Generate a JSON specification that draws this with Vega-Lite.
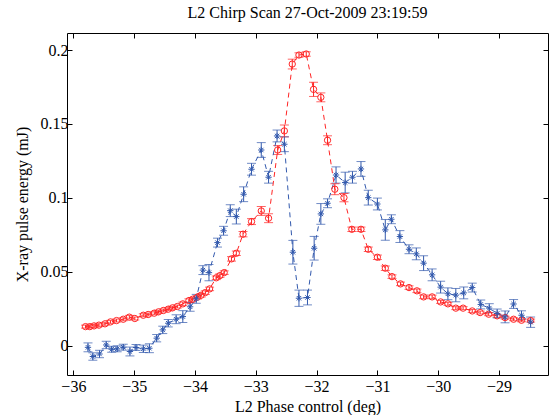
{
  "$schema": "https://vega.github.io/schema/vega-lite/v6.json",
  "width": 481,
  "height": 342,
  "autosize": {"type": "none"},
  "padding": {"left": 67, "top": 33, "right": 1, "bottom": 40},
  "background": "white",
  "title": {"text": "L2 Chirp Scan 27-Oct-2009 23:19:59", "font": "'Liberation Serif', 'Times New Roman', serif", "fontSize": 16, "fontWeight": "normal", "color": "#000000", "offset": 12},
  "config": {
    "font": "'Liberation Serif', 'Times New Roman', serif",
    "view": {"stroke": "#000000", "strokeWidth": 1},
    "axis": {"labelFont": "'Liberation Serif', 'Times New Roman', serif", "titleFont": "'Liberation Serif', 'Times New Roman', serif", "labelFontSize": 16, "titleFontSize": 16, "titleFontWeight": "normal", "labelColor": "#000000", "titleColor": "#000000", "tickColor": "#000000", "domain": false, "grid": false, "tickSize": -5}
  },
  "data": {"values": [
    {"series": "red", "x": -35.80, "y": 0.0130, "err": 0.0010},
    {"series": "red", "x": -35.73, "y": 0.0130, "err": 0.0010},
    {"series": "red", "x": -35.66, "y": 0.0135, "err": 0.0010},
    {"series": "red", "x": -35.58, "y": 0.0140, "err": 0.0010},
    {"series": "red", "x": -35.48, "y": 0.0149, "err": 0.0010},
    {"series": "red", "x": -35.39, "y": 0.0162, "err": 0.0010},
    {"series": "red", "x": -35.29, "y": 0.0171, "err": 0.0010},
    {"series": "red", "x": -35.18, "y": 0.0180, "err": 0.0010},
    {"series": "red", "x": -35.08, "y": 0.0194, "err": 0.0012},
    {"series": "red", "x": -34.99, "y": 0.0185, "err": 0.0010},
    {"series": "red", "x": -34.85, "y": 0.0207, "err": 0.0010},
    {"series": "red", "x": -34.77, "y": 0.0212, "err": 0.0010},
    {"series": "red", "x": -34.67, "y": 0.0221, "err": 0.0010},
    {"series": "red", "x": -34.60, "y": 0.0230, "err": 0.0010},
    {"series": "red", "x": -34.52, "y": 0.0239, "err": 0.0010},
    {"series": "red", "x": -34.44, "y": 0.0248, "err": 0.0010},
    {"series": "red", "x": -34.37, "y": 0.0257, "err": 0.0010},
    {"series": "red", "x": -34.29, "y": 0.0266, "err": 0.0010},
    {"series": "red", "x": -34.20, "y": 0.0284, "err": 0.0012},
    {"series": "red", "x": -34.10, "y": 0.0306, "err": 0.0012},
    {"series": "red", "x": -34.04, "y": 0.0315, "err": 0.0012},
    {"series": "red", "x": -33.96, "y": 0.0329, "err": 0.0012},
    {"series": "red", "x": -33.90, "y": 0.0342, "err": 0.0012},
    {"series": "red", "x": -33.83, "y": 0.0360, "err": 0.0012},
    {"series": "red", "x": -33.76, "y": 0.0385, "err": 0.0012},
    {"series": "red", "x": -33.65, "y": 0.0460, "err": 0.0012},
    {"series": "red", "x": -33.59, "y": 0.0475, "err": 0.0012},
    {"series": "red", "x": -33.52, "y": 0.0495, "err": 0.0012},
    {"series": "red", "x": -33.40, "y": 0.0588, "err": 0.0015},
    {"series": "red", "x": -33.32, "y": 0.0626, "err": 0.0015},
    {"series": "red", "x": -33.21, "y": 0.0755, "err": 0.0018},
    {"series": "red", "x": -33.07, "y": 0.0840, "err": 0.0020},
    {"series": "red", "x": -32.91, "y": 0.0912, "err": 0.0030},
    {"series": "red", "x": -32.79, "y": 0.0863, "err": 0.0030},
    {"series": "red", "x": -32.64, "y": 0.1324, "err": 0.0030},
    {"series": "red", "x": -32.53, "y": 0.1453, "err": 0.0040},
    {"series": "red", "x": -32.40, "y": 0.1905, "err": 0.0033},
    {"series": "red", "x": -32.29, "y": 0.1966, "err": 0.0015},
    {"series": "red", "x": -32.17, "y": 0.1973, "err": 0.0015},
    {"series": "red", "x": -32.05, "y": 0.1734, "err": 0.0048},
    {"series": "red", "x": -31.93, "y": 0.1680, "err": 0.0030},
    {"series": "red", "x": -31.82, "y": 0.1390, "err": 0.0030},
    {"series": "red", "x": -31.70, "y": 0.1059, "err": 0.0037},
    {"series": "red", "x": -31.55, "y": 0.1002, "err": 0.0028},
    {"series": "red", "x": -31.42, "y": 0.0788, "err": 0.0015},
    {"series": "red", "x": -31.27, "y": 0.0788, "err": 0.0015},
    {"series": "red", "x": -31.15, "y": 0.0653, "err": 0.0015},
    {"series": "red", "x": -31.00, "y": 0.0599, "err": 0.0015},
    {"series": "red", "x": -30.87, "y": 0.0525, "err": 0.0015},
    {"series": "red", "x": -30.76, "y": 0.0468, "err": 0.0012},
    {"series": "red", "x": -30.62, "y": 0.0419, "err": 0.0012},
    {"series": "red", "x": -30.48, "y": 0.0394, "err": 0.0012},
    {"series": "red", "x": -30.35, "y": 0.0372, "err": 0.0012},
    {"series": "red", "x": -30.24, "y": 0.0331, "err": 0.0012},
    {"series": "red", "x": -30.10, "y": 0.0331, "err": 0.0012},
    {"series": "red", "x": -29.96, "y": 0.0297, "err": 0.0010},
    {"series": "red", "x": -29.84, "y": 0.0284, "err": 0.0010},
    {"series": "red", "x": -29.71, "y": 0.0255, "err": 0.0010},
    {"series": "red", "x": -29.59, "y": 0.0255, "err": 0.0010},
    {"series": "red", "x": -29.44, "y": 0.0236, "err": 0.0010},
    {"series": "red", "x": -29.31, "y": 0.0225, "err": 0.0010},
    {"series": "red", "x": -29.17, "y": 0.0214, "err": 0.0010},
    {"series": "red", "x": -29.03, "y": 0.0203, "err": 0.0010},
    {"series": "red", "x": -28.90, "y": 0.0191, "err": 0.0010},
    {"series": "red", "x": -28.76, "y": 0.0180, "err": 0.0010},
    {"series": "red", "x": -28.63, "y": 0.0173, "err": 0.0010},
    {"series": "red", "x": -28.48, "y": 0.0171, "err": 0.0010},
    {"series": "blue", "x": -35.76, "y": -0.0010, "err": 0.0030},
    {"series": "blue", "x": -35.68, "y": -0.0072, "err": 0.0025},
    {"series": "blue", "x": -35.57, "y": -0.0055, "err": 0.0025},
    {"series": "blue", "x": -35.46, "y": 0.0006, "err": 0.0025},
    {"series": "blue", "x": -35.37, "y": -0.0023, "err": 0.0020},
    {"series": "blue", "x": -35.28, "y": -0.0020, "err": 0.0020},
    {"series": "blue", "x": -35.18, "y": -0.0009, "err": 0.0020},
    {"series": "blue", "x": -35.07, "y": -0.0038, "err": 0.0030},
    {"series": "blue", "x": -34.97, "y": -0.0011, "err": 0.0020},
    {"series": "blue", "x": -34.85, "y": -0.0020, "err": 0.0025},
    {"series": "blue", "x": -34.75, "y": -0.0016, "err": 0.0030},
    {"series": "blue", "x": -34.63, "y": 0.0052, "err": 0.0025},
    {"series": "blue", "x": -34.53, "y": 0.0108, "err": 0.0025},
    {"series": "blue", "x": -34.44, "y": 0.0153, "err": 0.0025},
    {"series": "blue", "x": -34.31, "y": 0.0180, "err": 0.0030},
    {"series": "blue", "x": -34.20, "y": 0.0198, "err": 0.0040},
    {"series": "blue", "x": -34.08, "y": 0.0264, "err": 0.0030},
    {"series": "blue", "x": -33.98, "y": 0.0318, "err": 0.0030},
    {"series": "blue", "x": -33.87, "y": 0.0512, "err": 0.0030},
    {"series": "blue", "x": -33.77, "y": 0.0495, "err": 0.0055},
    {"series": "blue", "x": -33.63, "y": 0.0698, "err": 0.0030},
    {"series": "blue", "x": -33.53, "y": 0.0778, "err": 0.0030},
    {"series": "blue", "x": -33.42, "y": 0.0914, "err": 0.0040},
    {"series": "blue", "x": -33.32, "y": 0.0874, "err": 0.0050},
    {"series": "blue", "x": -33.20, "y": 0.1025, "err": 0.0050},
    {"series": "blue", "x": -33.07, "y": 0.1194, "err": 0.0040},
    {"series": "blue", "x": -32.91, "y": 0.1324, "err": 0.0050},
    {"series": "blue", "x": -32.79, "y": 0.1140, "err": 0.0040},
    {"series": "blue", "x": -32.65, "y": 0.1419, "err": 0.0040},
    {"series": "blue", "x": -32.53, "y": 0.1363, "err": 0.0050},
    {"series": "blue", "x": -32.39, "y": 0.0633, "err": 0.0080},
    {"series": "blue", "x": -32.29, "y": 0.0322, "err": 0.0055},
    {"series": "blue", "x": -32.15, "y": 0.0327, "err": 0.0050},
    {"series": "blue", "x": -32.04, "y": 0.0660, "err": 0.0080},
    {"series": "blue", "x": -31.93, "y": 0.0892, "err": 0.0070},
    {"series": "blue", "x": -31.82, "y": 0.0964, "err": 0.0030},
    {"series": "blue", "x": -31.68, "y": 0.1155, "err": 0.0055},
    {"series": "blue", "x": -31.53, "y": 0.1104, "err": 0.0070},
    {"series": "blue", "x": -31.41, "y": 0.1140, "err": 0.0040},
    {"series": "blue", "x": -31.27, "y": 0.1196, "err": 0.0050},
    {"series": "blue", "x": -31.15, "y": 0.1002, "err": 0.0050},
    {"series": "blue", "x": -31.00, "y": 0.0959, "err": 0.0040},
    {"series": "blue", "x": -30.87, "y": 0.0784, "err": 0.0070},
    {"series": "blue", "x": -30.77, "y": 0.0856, "err": 0.0030},
    {"series": "blue", "x": -30.63, "y": 0.0739, "err": 0.0040},
    {"series": "blue", "x": -30.48, "y": 0.0653, "err": 0.0030},
    {"series": "blue", "x": -30.36, "y": 0.0622, "err": 0.0040},
    {"series": "blue", "x": -30.24, "y": 0.0559, "err": 0.0050},
    {"series": "blue", "x": -30.10, "y": 0.0480, "err": 0.0040},
    {"series": "blue", "x": -29.96, "y": 0.0397, "err": 0.0040},
    {"series": "blue", "x": -29.84, "y": 0.0352, "err": 0.0040},
    {"series": "blue", "x": -29.71, "y": 0.0343, "err": 0.0045},
    {"series": "blue", "x": -29.58, "y": 0.0358, "err": 0.0040},
    {"series": "blue", "x": -29.44, "y": 0.0394, "err": 0.0030},
    {"series": "blue", "x": -29.30, "y": 0.0280, "err": 0.0030},
    {"series": "blue", "x": -29.16, "y": 0.0255, "err": 0.0030},
    {"series": "blue", "x": -29.03, "y": 0.0219, "err": 0.0030},
    {"series": "blue", "x": -28.90, "y": 0.0196, "err": 0.0040},
    {"series": "blue", "x": -28.76, "y": 0.0283, "err": 0.0030},
    {"series": "blue", "x": -28.63, "y": 0.0207, "err": 0.0030},
    {"series": "blue", "x": -28.48, "y": 0.0160, "err": 0.0035}
  ]},
  "resolve": {"axis": {"x": "independent", "y": "independent"}},
  "layer": [
    {
      "mark": {"type": "errorbar", "ticks": {"size": 9}, "thickness": 1},
      "encoding": {
        "x": {"field": "x", "type": "quantitative", "scale": {"domain": [-36.105, -28.194], "nice": false, "zero": false}, "axis": {"orient": "bottom", "title": "L2 Phase control (deg)", "values": [-36, -35, -34, -33, -32, -31, -30, -29], "labelPadding": 8, "titlePadding": 4}},
        "y": {"field": "y", "type": "quantitative", "scale": {"domain": [-0.0197, 0.2115], "nice": false, "zero": false}, "axis": {"orient": "left", "title": "X-ray pulse energy (mJ)", "values": [0, 0.05, 0.1, 0.15, 0.2], "labelPadding": 4, "titlePadding": 10, "format": "~g"}},
        "yError": {"field": "err"},
        "color": {"field": "series", "type": "nominal", "scale": {"domain": ["red", "blue"], "range": ["#FF2424", "#3259AD"]}, "legend": null}
      }
    },
    {
      "mark": {"type": "line", "strokeDash": [5, 4], "strokeWidth": 1},
      "encoding": {
        "x": {"field": "x", "type": "quantitative", "axis": {"orient": "top", "title": null, "labels": false, "values": [-36, -35, -34, -33, -32, -31, -30, -29]}},
        "y": {"field": "y", "type": "quantitative", "axis": {"orient": "right", "title": null, "labels": false, "values": [0, 0.05, 0.1, 0.15, 0.2]}},
        "color": {"field": "series", "type": "nominal", "legend": null},
        "detail": {"field": "series"}
      }
    },
    {
      "transform": [{"filter": "datum.series === 'red'"}],
      "mark": {"type": "point", "shape": "circle", "filled": false, "size": 40, "strokeWidth": 1, "opacity": 1},
      "encoding": {
        "x": {"field": "x", "type": "quantitative", "axis": null},
        "y": {"field": "y", "type": "quantitative", "axis": null},
        "color": {"field": "series", "type": "nominal", "legend": null}
      }
    },
    {
      "transform": [{"filter": "datum.series === 'blue'"}],
      "mark": {"type": "point", "shape": "M-1,0H1M0,-1V1M-0.7,-0.7L0.7,0.7M-0.7,0.7L0.7,-0.7", "filled": false, "size": 40, "strokeWidth": 1, "opacity": 1},
      "encoding": {
        "x": {"field": "x", "type": "quantitative", "axis": null},
        "y": {"field": "y", "type": "quantitative", "axis": null},
        "color": {"field": "series", "type": "nominal", "legend": null}
      }
    }
  ]
}
